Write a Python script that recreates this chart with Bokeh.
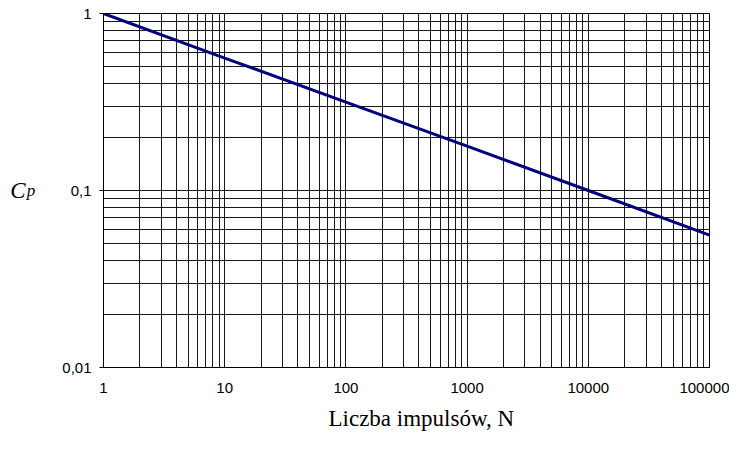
from bokeh.plotting import figure
from bokeh.models import FixedTicker, Range1d, Title, CustomJSTickFormatter, LogAxis
from bokeh.embed import file_html
from bokeh.resources import INLINE

# ---- data ----
N_values = [1, 10, 100, 1000, 10000, 100000]
Cp_values = [1.0, 0.56, 0.316, 0.178, 0.1, 0.056]

x_ticks = [1, 10, 100, 1000, 10000, 100000]
y_ticks = [0.01, 0.1, 1]

mantissas = [1, 2, 3, 4, 5, 6, 7, 8, 9]
x_grid = [m * 10 ** d for d in range(5) for m in mantissas] + [100000]
y_grid = [m * 10.0 ** d for d in (-2, -1) for m in mantissas] + [1]

x_title = "Liczba impulsów, N"
y_title_main = "C"
y_title_sub = "p"

SANS = "Liberation Sans"
SERIF = "Liberation Serif"

p = figure(
    x_axis_type="log", y_axis_type="log",
    x_range=Range1d(1, 100000), y_range=Range1d(0.01, 1),
    frame_width=606, frame_height=354,
    min_border_left=103, min_border_right=20,
    min_border_top=13, min_border_bottom=67,
    output_backend="svg", toolbar_location=None,
    background_fill_color="white", border_fill_color="white",
)

p.line(N_values, Cp_values, line_color="#000080", line_width=3)

# grids
p.xgrid.ticker = FixedTicker(ticks=x_grid)
p.ygrid.ticker = FixedTicker(ticks=y_grid)
for g in (p.xgrid, p.ygrid):
    g.grid_line_color = "black"
    g.grid_line_width = 1
    g.grid_line_alpha = 0.9

p.outline_line_color = "black"
p.outline_line_width = 1

# axes
p.xaxis.ticker = FixedTicker(ticks=x_ticks)
p.yaxis.ticker = FixedTicker(ticks=y_ticks)
p.xaxis.formatter = CustomJSTickFormatter(code="return tick.toFixed(0);")
p.yaxis.formatter = CustomJSTickFormatter(code="return String(tick).replace('.', ',');")
for ax in (p.xaxis, p.yaxis):
    ax.axis_line_color = "black"
    ax.minor_tick_line_color = None
    ax.major_label_text_font = SANS
    ax.major_label_text_font_size = "15px"
    ax.major_label_text_color = "black"
    ax.major_tick_line_color = "black"
    ax.major_tick_in = 0
p.xaxis.major_tick_out = 0
p.xaxis.major_label_standoff = 15
p.yaxis.major_tick_out = 4
p.yaxis.major_label_standoff = 8

# y title "C_p": subscript p on the inner axis, C on an outer blank axis
p.yaxis.axis_label = y_title_sub
p.yaxis.axis_label_orientation = "horizontal"
p.yaxis.axis_label_text_font = SERIF
p.yaxis.axis_label_text_font_style = "italic"
p.yaxis.axis_label_text_font_size = "17px"
p.yaxis.axis_label_text_color = "black"
p.yaxis.axis_label_text_baseline = "alphabetic"
p.yaxis.axis_label_standoff = 24

outer = LogAxis(ticker=FixedTicker(ticks=[]), axis_label=y_title_main,
                axis_line_color=None, major_tick_line_color=None,
                minor_tick_line_color=None, major_tick_out=0, major_tick_in=0,
                major_label_standoff=0, axis_label_standoff=-2,
                axis_label_orientation="horizontal",
                axis_label_text_font=SERIF, axis_label_text_font_style="italic",
                axis_label_text_font_size="23px", axis_label_text_color="black",
                axis_label_text_baseline="alphabetic")
p.add_layout(outer, "left")

# x title as a Title below the axis, positioned from the frame's left edge
p.add_layout(Title(text=x_title, align="left", offset=225,
                   text_font=SERIF, text_font_size="23px",
                   text_font_style="normal", text_color="black", standoff=16),
             "below")

open("out.html", "w").write(file_html(p, INLINE))
